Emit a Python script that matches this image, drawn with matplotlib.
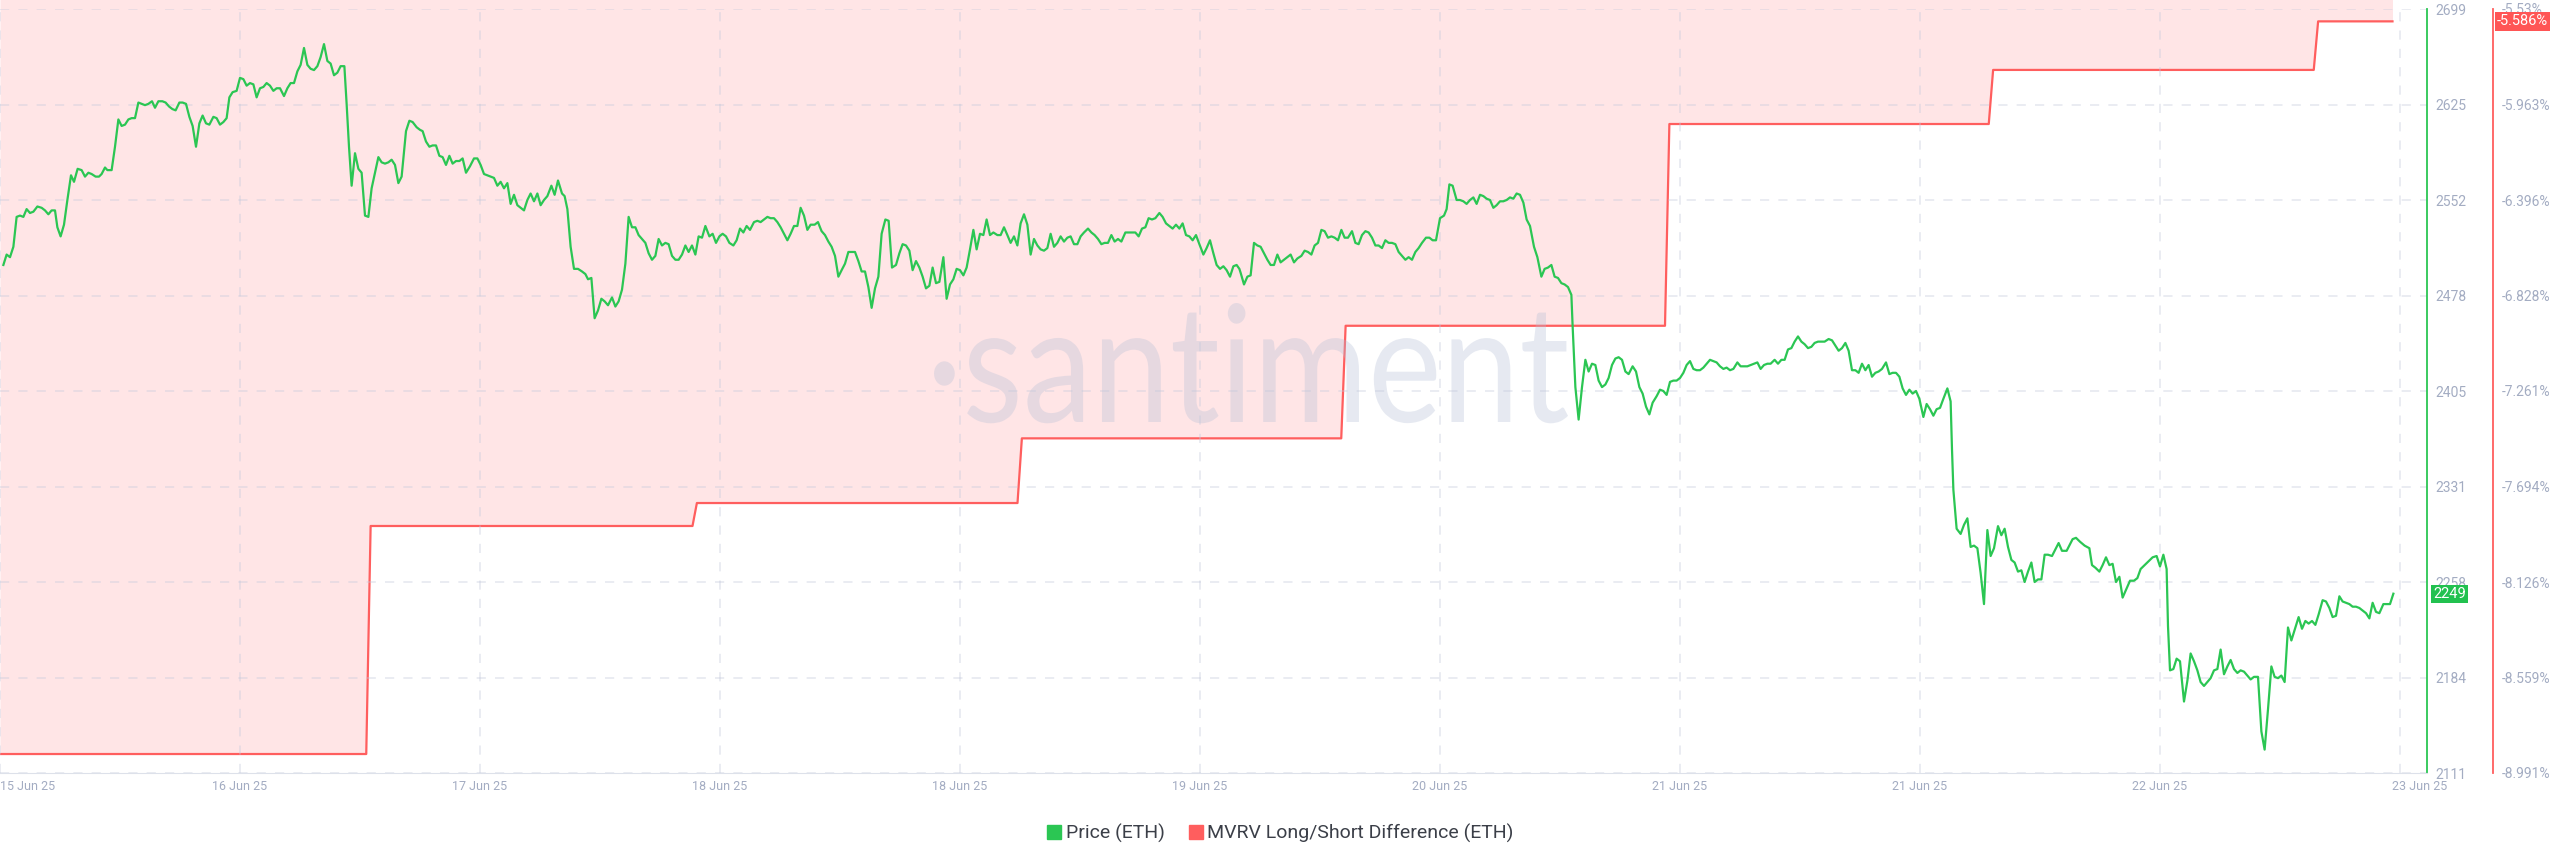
import numpy as np
import matplotlib.pyplot as plt
from matplotlib.textpath import TextPath
from matplotlib.patches import PathPatch
from matplotlib.font_manager import FontProperties
from matplotlib.transforms import Affine2D, IdentityTransform, ScaledTranslation

# ---- data (hours from chart start) ----
price_hours = [
    0.27, 0.53, 0.8, 1.07, 1.33, 1.6, 1.87, 2.13, 2.4, 2.67, 2.99, 3.33, 3.6, 3.87, 4.13, 4.4, 4.59, 4.85,
    5.12, 5.39, 5.68, 5.92, 6.21, 6.53, 6.8, 7.07, 7.33, 7.65, 7.92, 8.13, 8.4, 8.59, 8.93, 9.2, 9.47, 9.73,
    10.0, 10.27, 10.53, 10.8, 11.07, 11.33, 11.6, 11.87, 12.16, 12.4, 12.67, 12.99, 13.25, 13.52, 13.79,
    14.05, 14.35, 14.61, 14.88, 15.15, 15.41, 15.68, 15.95, 16.21, 16.48, 16.75, 17.07, 17.33, 17.6, 17.87,
    18.13, 18.35, 18.61, 18.93, 19.2, 19.47, 19.73, 20.0, 20.27, 20.53, 20.8, 21.07, 21.33, 21.6, 21.87,
    22.13, 22.4, 22.72, 22.99, 23.25, 23.52, 23.79, 24.05, 24.32, 24.59, 24.85, 25.12, 25.39, 25.65, 25.92,
    26.19, 26.45, 26.72, 26.99, 27.25, 27.55, 27.73, 27.92, 28.13, 28.4, 28.67, 28.93, 29.2, 29.47, 29.73,
    30.0, 30.27, 30.53, 30.8, 31.07, 31.33, 31.6, 31.87, 32.13, 32.48, 32.75, 33.01, 33.33, 33.6,
    33.81, 34.08, 34.35, 34.61, 34.88, 35.15, 35.41, 35.68, 35.95, 36.21, 36.48, 36.75, 37.01, 37.28, 37.6,
    37.92, 38.19, 38.45, 38.72, 38.99, 39.25, 39.52, 39.79, 40.05, 40.32, 40.59, 40.85, 41.12, 41.39, 41.65,
    41.92, 42.19, 42.45, 42.72, 42.99, 43.25, 43.52, 43.79, 44.11, 44.37, 44.64, 44.96, 45.17, 45.39, 45.65,
    45.92, 46.24, 46.56, 46.83, 47.04, 47.31, 47.57, 47.84, 48.11, 48.37, 48.64, 48.96, 49.23, 49.49, 49.76,
    50.03, 50.29, 50.56, 50.83, 51.09, 51.36, 51.63, 51.89, 52.16, 52.43, 52.69, 52.96, 53.23, 53.49, 53.76,
    54.03, 54.29, 54.56, 54.83, 55.09, 55.36, 55.63, 55.89, 56.16, 56.43, 56.75, 57.01, 57.28, 57.55, 57.81,
    58.08, 58.35, 58.67, 58.93, 59.2, 59.47, 59.73, 60.0, 60.32, 60.59, 60.85, 61.12, 61.39, 61.65, 61.92,
    62.19, 62.45, 62.72, 62.99, 63.25, 63.52, 63.79, 64.05, 64.32, 64.59, 64.85, 65.17, 65.44, 65.6,
    65.73, 66.0, 66.27, 66.53, 66.8, 67.07, 67.33, 67.6, 67.87, 68.13, 68.4, 68.67, 68.93, 69.2, 69.47,
    69.73, 70.0, 70.27, 70.53, 70.83, 71.09, 71.36, 71.68, 71.95, 72.21, 72.48, 72.75, 73.01, 73.28, 73.55,
    73.81, 74.08, 74.35, 74.61, 74.88, 75.15, 75.47, 75.73, 76.0, 76.27, 76.53, 76.8, 77.07, 77.33, 77.6,
    77.87, 78.13, 78.4, 78.67, 78.93, 79.2, 79.47, 79.79, 80.05, 80.32, 80.59, 80.85, 81.12, 81.39, 81.65,
    81.92, 82.19, 82.45, 82.72, 82.99, 83.25, 83.52, 83.79, 84.05, 84.32, 84.59, 84.85, 85.12, 85.39, 85.65,
    85.92, 86.19, 86.45, 86.72, 87.04, 87.31, 87.57, 87.84, 88.11, 88.37, 88.64, 88.91, 89.17, 89.44, 89.71,
    90.03, 90.29, 90.56, 90.83, 91.09, 91.36, 91.63, 91.89, 92.16, 92.43, 92.75, 93.01, 93.28, 93.55, 93.81,
    94.08, 94.35, 94.61, 94.88, 95.15, 95.41, 95.68, 95.95, 96.27, 96.53, 96.8, 97.07, 97.33, 97.6, 97.87,
    98.13, 98.4, 98.67, 98.93, 99.15,
    99.25, 99.52, 99.79, 100.05, 100.32, 100.59, 100.85, 101.12, 101.39, 101.65, 101.92, 102.19, 102.45,
    102.72, 102.99, 103.25, 103.52, 103.79, 104.11, 104.37, 104.64, 104.91, 105.17, 105.44, 105.71, 105.97,
    106.24, 106.51, 106.77, 107.04, 107.31, 107.57, 107.84, 108.16, 108.43, 108.69, 108.96, 109.23, 109.49,
    109.76, 110.03, 110.29, 110.56, 110.83, 111.09, 111.36, 111.63, 111.89, 112.16, 112.43, 112.69, 112.96,
    113.23, 113.49, 113.76, 114.08, 114.35, 114.61, 114.88, 115.2, 115.52, 115.73, 115.95, 116.21, 116.53,
    116.8, 117.07, 117.33, 117.6, 117.87, 118.13, 118.4, 118.67, 118.93, 119.2, 119.47, 119.73, 120.0,
    120.27, 120.53, 120.8, 121.07, 121.33, 121.6, 121.87, 122.13, 122.4, 122.72, 122.99, 123.31, 123.57,
    123.84, 124.11, 124.37, 124.64, 124.91, 125.17, 125.44, 125.71, 125.81, 126.03, 126.29, 126.56, 126.83,
    127.09, 127.36, 127.63, 127.89, 128.16, 128.43, 128.69, 128.96, 129.23, 129.49, 129.76, 130.03, 130.29,
    130.61, 130.88, 131.15, 131.41, 131.68, 131.95, 132.21, 132.53, 132.8,
    133.07, 133.33, 133.6, 133.87, 134.13, 134.4, 134.67, 134.93, 135.2, 135.47, 135.73, 136.0, 136.27,
    136.53, 136.8, 137.07, 137.33, 137.6, 137.87, 138.13, 138.4, 138.67, 138.99, 139.25, 139.52, 139.79,
    140.05, 140.32, 140.59, 140.85, 141.12, 141.39, 141.65, 141.97, 142.24, 142.51, 142.77, 143.04, 143.31,
    143.57, 143.84, 144.11, 144.37, 144.64, 144.91, 145.17, 145.44, 145.71, 145.97, 146.29, 146.56, 146.83,
    147.09, 147.36, 147.63, 147.89, 148.16, 148.43, 148.69, 148.96, 149.23, 149.49, 149.76, 150.03, 150.29,
    150.56, 150.88, 151.15, 151.41, 151.68, 151.95, 152.21, 152.48, 152.75, 153.01, 153.28, 153.55, 153.87,
    154.13, 154.4, 154.67, 154.93, 155.2, 155.47, 155.79, 156.05, 156.16, 156.27, 156.53, 156.85, 157.12,
    157.39, 157.65, 157.92, 158.19, 158.45, 158.72, 158.99, 159.25, 159.52, 159.84, 160.11, 160.37, 160.64,
    160.91, 161.17, 161.44, 161.71, 161.97, 162.24, 162.51, 162.77, 163.04, 163.31, 163.57, 163.84, 164.16,
    164.43, 164.69,
    164.96, 165.33, 165.81, 166.08, 166.4, 166.77, 167.15, 167.36, 167.63, 167.95, 168.21, 168.48, 168.75,
    169.01, 169.28, 169.55, 169.81, 170.08, 170.4, 170.72, 170.99, 171.25, 171.57, 171.89, 172.21, 172.53,
    172.8, 173.07, 173.33, 173.44, 173.6, 173.87, 174.13, 174.4, 174.72, 174.99, 175.25, 175.52, 175.79,
    176.05, 176.32, 176.59, 176.85, 177.12, 177.39, 177.65, 177.92, 178.19, 178.45, 178.72, 178.99, 179.25,
    179.52, 179.79, 180.05, 180.32, 180.64, 180.91, 181.17, 181.44, 181.71, 181.97, 182.24, 182.51, 182.77,
    183.04, 183.31, 183.57, 183.89, 184.16, 184.43, 184.69, 184.96, 185.23, 185.49, 185.81, 186.08, 186.35,
    186.61, 186.88, 187.15, 187.41, 187.68, 187.95, 188.21, 188.48, 188.75, 189.01, 189.28, 189.55, 189.81,
    190.08, 190.35, 190.67, 190.93, 191.2, 191.47,
]
price_eth = [
    2502, 2510, 2508, 2516, 2539, 2540, 2539, 2545, 2542, 2543, 2547, 2546, 2544, 2541, 2544, 2544, 2531, 2524,
    2533, 2552, 2571, 2566, 2576, 2575, 2570, 2573, 2572, 2570, 2570, 2572, 2577, 2575, 2575, 2593, 2614, 2609,
    2610, 2614, 2615, 2615, 2627, 2626, 2625, 2626, 2628, 2623, 2628, 2628, 2627, 2624, 2622,
    2621, 2627, 2627, 2626, 2616, 2609, 2593, 2611, 2617, 2611, 2610, 2616, 2615, 2610, 2612,
    2615, 2631, 2635, 2636, 2646, 2645, 2640, 2642, 2641, 2631, 2638, 2639, 2642, 2640, 2636,
    2638, 2638, 2632, 2638, 2642, 2642, 2651, 2656, 2669, 2656, 2653, 2652, 2655, 2662, 2672,
    2659, 2657, 2648, 2650, 2655, 2655, 2626, 2593, 2563, 2588, 2576, 2573, 2540, 2539, 2561,
    2573, 2585, 2581, 2580, 2581, 2583, 2579, 2565, 2570, 2605, 2613, 2612, 2608, 2606,
    2605, 2597, 2593, 2594, 2594, 2586, 2585, 2579, 2586, 2580, 2582, 2582, 2584, 2573, 2578,
    2584, 2584, 2579, 2572, 2571, 2570, 2569, 2563, 2566, 2561, 2565, 2549, 2556, 2548, 2546,
    2544, 2552, 2557, 2551, 2557, 2548, 2552, 2555, 2563, 2556, 2567, 2557, 2555, 2545, 2516,
    2499, 2499, 2497, 2495, 2491, 2492, 2461, 2467, 2476, 2474, 2471, 2477, 2470, 2474, 2483,
    2503, 2539, 2531, 2531, 2525, 2522, 2519, 2511, 2506, 2509, 2522, 2517, 2519, 2518, 2509,
    2506, 2506, 2510, 2517, 2512, 2517, 2510, 2524, 2523, 2532, 2524, 2526, 2519, 2524, 2526,
    2524, 2519, 2517, 2521, 2530, 2527, 2532, 2529, 2535, 2536, 2535, 2537, 2539, 2538, 2538,
    2535, 2531, 2526, 2521, 2526, 2532, 2532, 2546, 2540, 2529, 2533, 2533, 2535, 2531,
    2528, 2525, 2520, 2516, 2509, 2493, 2498, 2503, 2512, 2512, 2512, 2505, 2497, 2497, 2485,
    2469, 2484, 2493, 2526, 2537, 2536, 2500, 2502, 2511, 2518, 2517, 2513, 2498, 2505, 2500,
    2493, 2484, 2486, 2500, 2488, 2489, 2508, 2476, 2487, 2491, 2499, 2498, 2494, 2500, 2514,
    2529, 2514, 2526, 2525, 2537, 2525, 2527, 2525, 2525, 2531, 2525, 2519, 2524, 2517, 2534,
    2541, 2533, 2510, 2522, 2517, 2514, 2513, 2515, 2526, 2516, 2519, 2524, 2520, 2523, 2524,
    2518, 2518, 2524, 2527, 2530, 2527, 2525, 2522, 2518, 2519, 2519, 2525, 2520, 2522, 2520,
    2527, 2527, 2527, 2527, 2524, 2530, 2531, 2538, 2537, 2538, 2542, 2539, 2534, 2532, 2530,
    2533, 2530, 2534, 2525, 2524, 2521, 2525, 2518, 2510, 2515, 2521, 2511, 2502, 2499, 2501,
    2498, 2493, 2501, 2502, 2499,
    2496, 2487, 2493, 2494, 2519, 2517, 2516, 2511, 2506, 2502, 2502, 2510, 2504,
    2506, 2508, 2510, 2504, 2507, 2509, 2513, 2512, 2510, 2517, 2519, 2529, 2528,
    2523, 2524, 2523, 2521, 2529, 2523, 2523, 2528, 2519, 2518, 2525, 2528, 2527,
    2523, 2517, 2517, 2515, 2521, 2519, 2519, 2518, 2512, 2509, 2506, 2508, 2506,
    2512, 2515, 2519, 2523, 2523, 2521, 2521, 2538, 2540, 2545, 2564, 2563, 2552,
    2552, 2551, 2549, 2552, 2554, 2549, 2556, 2555, 2553, 2552, 2546, 2548, 2551,
    2551, 2552, 2554, 2553, 2557, 2556, 2550, 2537, 2532, 2516, 2508, 2493, 2499,
    2500, 2502, 2493, 2492, 2488, 2487, 2485, 2479, 2455, 2408, 2383, 2408, 2429,
    2420, 2426, 2425, 2413, 2408, 2410, 2415, 2425, 2430, 2431, 2429, 2420, 2418,
    2424, 2420, 2408, 2403, 2393, 2387, 2396, 2401, 2406,
    2405, 2402, 2412, 2413, 2413, 2415, 2419, 2425, 2428, 2422, 2421, 2421, 2423,
    2426, 2429, 2428, 2427, 2424, 2422, 2423, 2421, 2422, 2427, 2424, 2424, 2424,
    2425, 2426, 2427, 2422, 2425, 2426, 2426, 2429, 2426, 2429, 2429, 2437, 2438,
    2443, 2447, 2443, 2441, 2438, 2439, 2442, 2443, 2443, 2443, 2445, 2444, 2440,
    2436, 2438, 2442, 2436, 2421, 2421, 2419, 2426, 2421, 2425, 2416, 2419, 2420,
    2422, 2427, 2418, 2419, 2419, 2416, 2407, 2402, 2406, 2403, 2405, 2399, 2385,
    2395, 2391, 2386, 2391, 2392, 2399, 2407, 2397, 2360, 2329, 2299, 2295, 2302,
    2307, 2285, 2286, 2284, 2265, 2241, 2298, 2278, 2284, 2301, 2294, 2299, 2285,
    2275, 2273, 2266, 2267, 2258, 2266, 2273, 2258, 2260, 2260, 2279, 2279, 2278,
    2283, 2288,
    2282, 2282, 2291, 2292, 2289, 2286, 2284, 2271, 2269, 2266, 2271, 2277, 2271,
    2272, 2258, 2262, 2246, 2252, 2259, 2259, 2261, 2268, 2271, 2274, 2277, 2278,
    2270, 2279, 2268, 2224, 2190, 2191, 2199, 2197, 2166, 2182, 2203, 2197, 2190,
    2181, 2178, 2181, 2184, 2190, 2191, 2206, 2187, 2193, 2198, 2191, 2188, 2190,
    2189, 2186, 2183, 2185, 2185, 2143, 2129, 2160, 2193, 2185, 2184, 2186, 2181,
    2223, 2213, 2221, 2231, 2222, 2228, 2226, 2228, 2225, 2233, 2244, 2243, 2238,
    2231, 2232, 2247, 2243, 2242, 2241, 2239, 2239, 2238, 2236, 2234, 2230, 2242,
    2235, 2234, 2241, 2241, 2241, 2249,
]

# MVRV long/short difference (%), daily values and the hour each one starts
mvrv_start_hours = [0, 29.3, 55.4, 81.4, 107.3, 133.2, 159.1, 185.1]
mvrv_values = [-8.905, -7.872, -7.768, -7.475, -6.965, -6.051, -5.806, -5.586]
mvrv_end_hour = 191.4

x_tick_hours = [0, 19.2, 38.4, 57.6, 76.8, 96, 115.2, 134.4, 153.6, 172.8, 192]
x_tick_labels = ['15 Jun 25', '16 Jun 25', '17 Jun 25', '18 Jun 25', '18 Jun 25', '19 Jun 25',
                 '20 Jun 25', '21 Jun 25', '21 Jun 25', '22 Jun 25', '23 Jun 25']
price_tick_labels = ['2111', '2184', '2258', '2331', '2405', '2478', '2552', '2625', '2699']
mvrv_tick_labels = ['-8.991%', '-8.559%', '-8.126%', '-7.694%', '-7.261%', '-6.828%', '-6.396%',
                    '-5.963%', '-5.53%']
price_min, price_max = 2111, 2699
mvrv_min, mvrv_max = -8.991, -5.53

GREEN = '#2bc653'
RED = '#ff5e5e'
PINK = '#ffe5e6'
TICK = '#a3acc2'

plt.rcParams['font.family'] = ['Roboto', 'DejaVu Sans']

fig = plt.figure(figsize=(25.6, 8.67), dpi=100)
W, H = 2560, 867
ax = fig.add_axes([0, (H - 773) / H, 2427 / W, 764 / H])
ax2 = ax.twinx()
ax.set_zorder(ax2.get_zorder() + 1)
ax.patch.set_visible(False)

# MVRV step line with short ramps between days
ramp = 0.35
mx, my = [], []
for i, v in enumerate(mvrv_values):
    start = mvrv_start_hours[i] + (ramp if i > 0 else 0)
    end = mvrv_start_hours[i + 1] if i + 1 < len(mvrv_values) else mvrv_end_hour
    mx += [start, end]
    my += [v, v]
# the shaded band runs up to the top edge of the picture
ax2.fill_between(mx, my, mvrv_max + 0.06, color=PINK, lw=0, zorder=1, clip_on=False)
ax2.plot(mx, my, color=RED, lw=1.6, zorder=2)
ax2.set_ylim(mvrv_min, mvrv_max)
ax2.set_yticks(np.linspace(mvrv_min, mvrv_max, len(mvrv_tick_labels)))
ax2.set_yticklabels(mvrv_tick_labels)

# price line
ax.plot(price_hours, price_eth, color=GREEN, lw=1.6, zorder=3)
ax.set_xlim(0, 2427 / 12.5)
ax.set_ylim(price_min, price_max)
ax.yaxis.tick_right()
ax.set_yticks(np.linspace(price_min, price_max, len(price_tick_labels)))
ax.set_yticklabels(price_tick_labels)
ax.set_xticks(x_tick_hours)
ax.set_xticklabels(x_tick_labels)

ax.grid(True, color='#c3c9dc', alpha=0.45, linestyle=(0, (6, 6)), lw=1.1, zorder=0)

for a in (ax, ax2):
    for s in ('top', 'left'):
        a.spines[s].set_visible(False)
ax2.spines['bottom'].set_visible(False)
ax.spines['bottom'].set_color('#dde1ea')
ax.spines['right'].set_color(GREEN)
ax.spines['right'].set_linewidth(1.3)
ax2.spines['right'].set_color(RED)
ax2.spines['right'].set_linewidth(1.3)
ax2.spines['right'].set_position(('outward', 66 * 0.72))

ax.tick_params(axis='y', length=0, pad=6, labelsize=10, labelcolor=TICK)
ax2.tick_params(axis='y', length=0, pad=6.5, labelsize=10, labelcolor=TICK)
ax.tick_params(axis='x', length=0, pad=5, labelsize=9, labelcolor=TICK)

xlabels = ax.get_xticklabels()
xlabels[0].set_horizontalalignment('left')
xlabels[-1].set_transform(xlabels[-1].get_transform() + ScaledTranslation(0.2, 0, fig.dpi_scale_trans))

# current value tags
ax.annotate(f'{price_eth[-1]}', xy=(1, price_eth[-1]), xycoords=('axes fraction', 'data'),
            xytext=(6, 0), textcoords='offset pixels', ha='left', va='center', color='white',
            fontsize=10.5, bbox=dict(boxstyle='square,pad=0.15', fc='#22c14f', ec='none'))
ax2.annotate(f'{mvrv_values[-1]:.3f}%', xy=(1, mvrv_values[-1]), xycoords=('axes fraction', 'data'),
             xytext=(70, 0), textcoords='offset pixels', ha='left', va='center', color='white',
             fontsize=10.5, bbox=dict(boxstyle='square,pad=0.15', fc='#ff5555', ec='none'))

# watermark, stretched into its box
tp = TextPath((0, 0), '·santiment', size=1, prop=FontProperties(family='Lato'))
ext = tp.get_extents()
sx = (1568 - 934) / ext.width
sy = (867 - 303 - (867 - 422)) / ext.y1
tr = Affine2D().translate(-ext.x0, 0).scale(sx, sy).translate(934, 867 - 422)
wm = PathPatch(tp, fc='#b4bfd6', ec='none', alpha=0.33, zorder=0.5)
wm.set_transform(tr + IdentityTransform())
fig.patches.append(wm)
wm.set_figure(fig)

# legend
h1, = ax.plot([], [], 's', color=GREEN, ms=10)
h2, = ax.plot([], [], 's', color=RED, ms=10)
fig.legend([h1, h2], ['Price (ETH)', 'MVRV Long/Short Difference (ETH)'], loc='center',
           bbox_to_anchor=(0.5, 1 - 833 / H), ncol=2, frameon=False, fontsize=14,
           labelcolor='#3b3f48', handletextpad=0.2, columnspacing=1.2, handlelength=0.8)

fig.savefig('out.png', dpi=100, facecolor='white')
